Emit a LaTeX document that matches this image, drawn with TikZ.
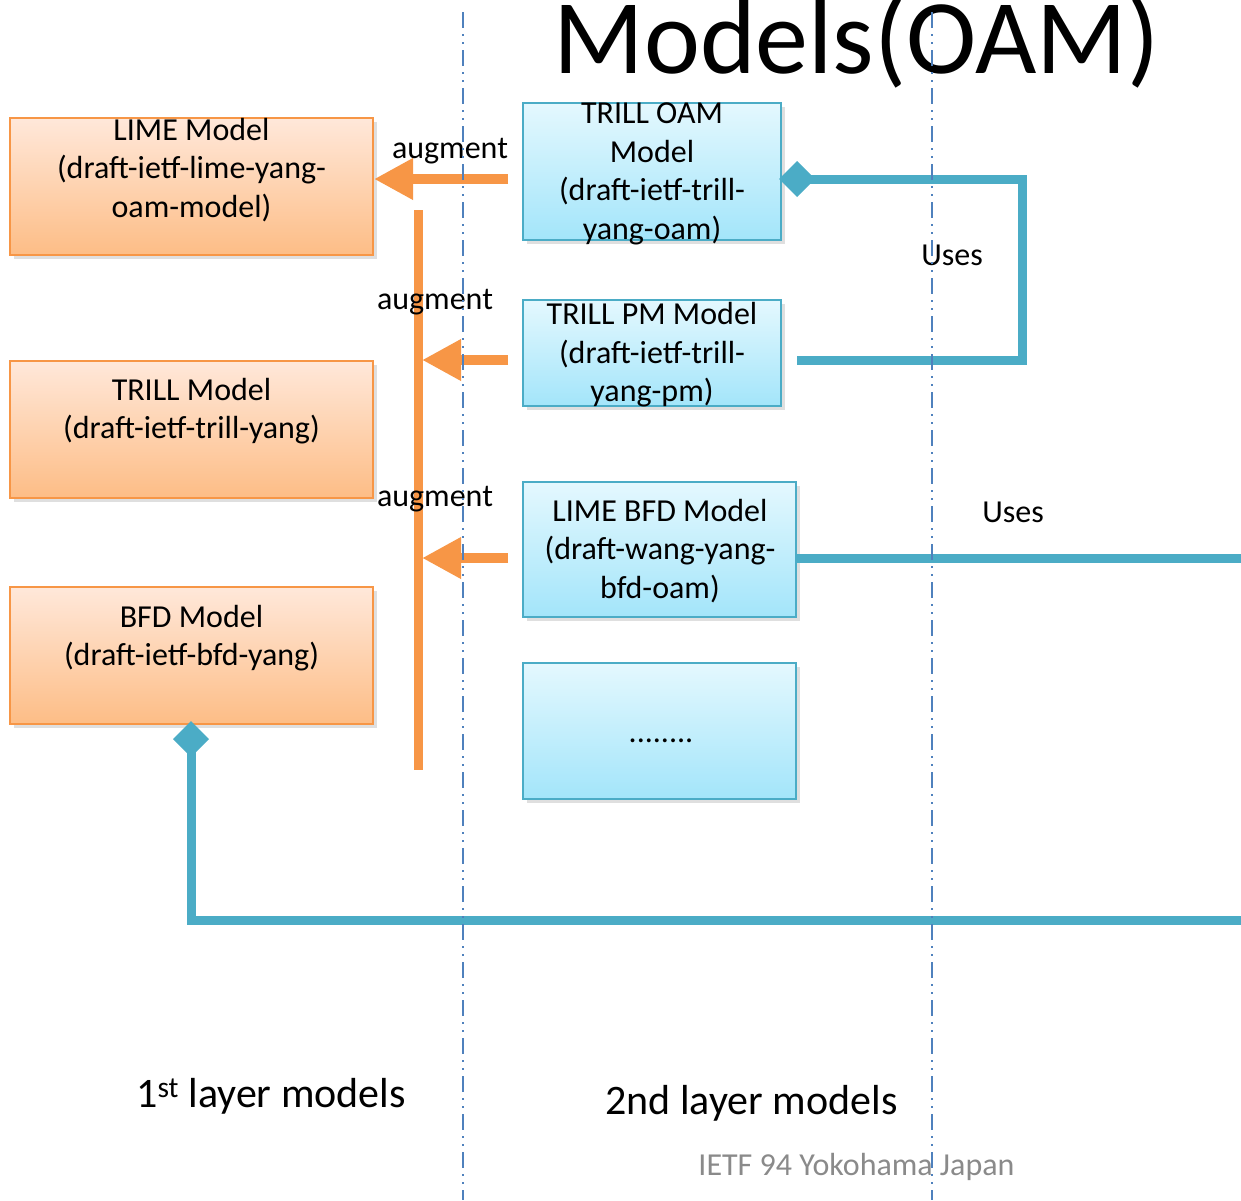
\documentclass[tikz,border=0pt]{standalone}
\usepackage{fontspec}
\setmainfont{Carlito}
\usepackage{tikz}
\usetikzlibrary{arrows.meta}
\usetikzlibrary{shadows}
\usetikzlibrary{positioning}
\definecolor{oamorange}{HTML}{F79646}
\definecolor{orangetop}{HTML}{FFE8DA}
\definecolor{orangebot}{HTML}{FDBD86}
\definecolor{oamblue}{HTML}{4BACC6}
\definecolor{bluetop}{HTML}{E4F8FE}
\definecolor{bluebot}{HTML}{A3E5FA}
\definecolor{sepblue}{HTML}{4F81BD}
\definecolor{footgray}{HTML}{8A8A8A}
\tikzstyle{firstlayer}=[rectangle,draw=oamorange,line width=2pt,top color=orangetop,bottom color=orangebot,minimum width=363pt,minimum height=137pt,drop shadow={shadow xshift=4pt,shadow yshift=-4pt,opacity=.25}]
\tikzstyle{secondlayer}=[rectangle,draw=oamblue,line width=2pt,top color=bluetop,bottom color=bluebot,minimum height=136pt,drop shadow={shadow xshift=4pt,shadow yshift=-4pt,opacity=.25}]
\tikzstyle{boxtext}=[align=center,inner sep=0pt,font=\fontsize{32}{38.5}\selectfont]
\tikzstyle{plaintext}=[anchor=base,inner sep=0pt,font=\fontsize{32}{38}\selectfont]
\tikzstyle{augment}=[draw=oamorange,line width=10pt,-{Triangle[length=39pt,width=39pt]}]
\tikzstyle{uses}=[draw=oamblue,line width=9pt,line join=miter]
\tikzstyle{layersep}=[draw=sepblue,line width=2pt,dash pattern=on 16pt off 6pt on 2pt off 6pt on 2pt off 6pt]

\begin{document}
\begin{tikzpicture}[x=1pt,y=-1pt]
	\useasboundingbox (0,0) rectangle (1241,1200);
	% title
	\node[anchor=base,inner sep=0pt,font=\fontsize{106}{112}\selectfont] (title) at (856.5,73) {Models(OAM)};
	% 1st layer models
	\node[firstlayer] (lime) at (191.5,186.5) {};
	\node[firstlayer] (trill) at (191.5,429) {};
	\node[firstlayer] (bfd) at (191.5,655.5) {};
	\node[boxtext] (limetxt) at (191.5,170) {LIME Model\\(draft-ietf-lime-yang-\\oam-model)};
	\node[boxtext] (trilltxt) at (191.5,411) {TRILL Model\\(draft-ietf-trill-yang)};
	\node[boxtext] (bfdtxt) at (191.5,638) {BFD Model\\(draft-ietf-bfd-yang)};
	% 2nd layer models
	\node[secondlayer,minimum width=258pt,minimum height=137pt] (oam) at (652,171.5) {};
	\node[secondlayer,minimum width=258pt,minimum height=106pt] (pm) at (652,353) {};
	\node[secondlayer,minimum width=273pt,minimum height=135pt] (limebfd) at (659.5,549.5) {};
	\node[secondlayer,minimum width=273pt,minimum height=136pt] (more) at (659.5,731) {};
	\node[boxtext] (oamtxt) at (652,174) {TRILL OAM\\Model\\(draft-ietf-trill-\\yang-oam)};
	\node[boxtext] (pmtxt) at (652,355) {TRILL PM Model\\(draft-ietf-trill-\\yang-pm)};
	\node[boxtext] (limebfdtxt) at (660,551) {LIME BFD Model\\(draft-wang-yang-\\bfd-oam)};
	\node[plaintext] (moretxt) at (661,742) {........};
	% augment
	\coordinate (bartop) at (418,210);
	\coordinate (barbot) at (418,770);
	\coordinate (aug1) at (508,179);
	\coordinate (aug2) at (508,360);
	\coordinate (aug3) at (508,558);
	\draw[draw=oamorange,line width=9pt] (bartop) -- (barbot);
	\draw[augment] (aug1) -- (aug1 -| lime.east);
	\draw[augment] (aug2) -- ([xshift=4pt]aug2 -| bartop);
	\draw[augment] (aug3) -- ([xshift=4pt]aug3 -| bartop);
	\node[plaintext] (auglbl1) at (450,158) {augment};
	\node[plaintext] (auglbl2) at (435,309) {augment};
	\node[plaintext] (auglbl3) at (435,506) {augment};
	% uses
	\coordinate (pmout) at (797,360);
	\coordinate (usecorner) at (1022,179);
	\coordinate (oamin) at (779,179);
	\coordinate (bfdout) at (1241,558);
	\coordinate (lowright) at (1241,920);
	\coordinate (bfdin) at (191,721);
	\draw[uses,-{Diamond[length=36pt,width=36pt]}] (pmout) -| (usecorner) -- (oamin);
	\draw[uses] (bfdout -| limebfd.east) -- (bfdout);
	\draw[uses,-{Diamond[length=36pt,width=36pt]}] (lowright) -| (bfdin);
	\node[plaintext] (useslbl1) at (952,265) {Uses};
	\node[plaintext] (useslbl2) at (1013,522) {Uses};
	% layers
	\node[anchor=base,inner sep=0pt,font=\fontsize{42}{48}\selectfont] (layer1) at (271,1107) {1\textsuperscript{st} layer models};
	\node[anchor=base,inner sep=0pt,font=\fontsize{42}{48}\selectfont] (layer2) at (751.5,1114) {2nd layer models};
	\node[plaintext,text=footgray] (footer) at (856.5,1175) {IETF 94 Yokohama Japan};
	\coordinate (sep1top) at (463,12);
	\coordinate (sep1bot) at (463,1200);
	\coordinate (sep2top) at (932,12);
	\coordinate (sep2bot) at (932,1200);
	\draw[layersep] (sep1top) -- (sep1bot);
	\draw[layersep] (sep2top) -- (sep2bot);
\end{tikzpicture}
\end{document}
